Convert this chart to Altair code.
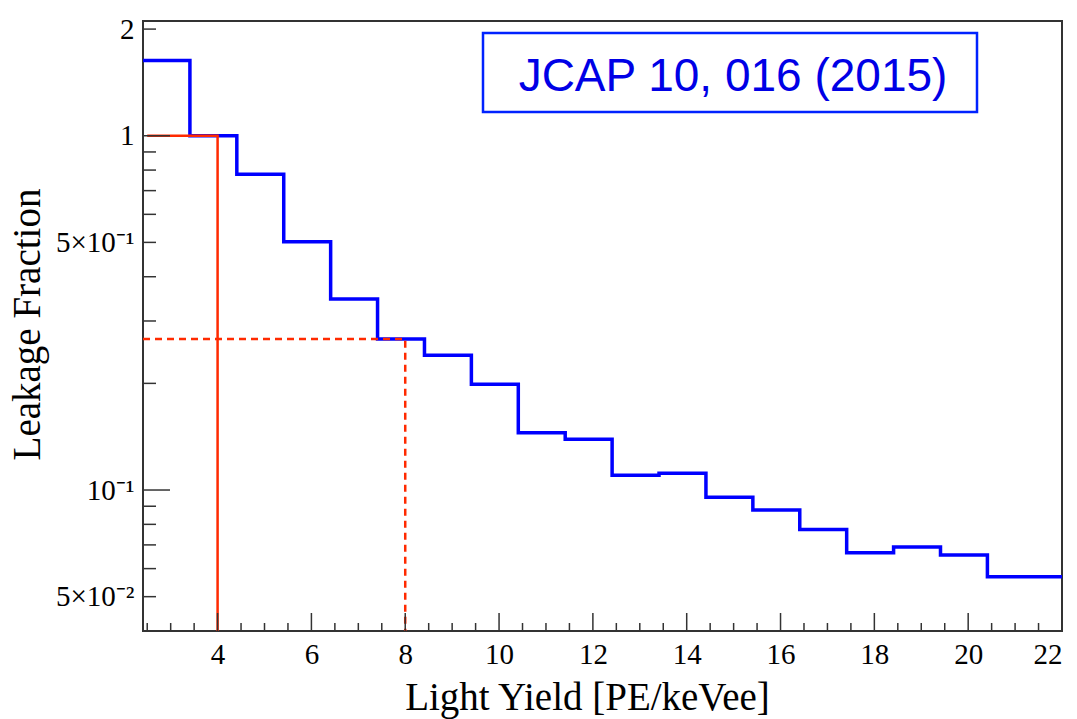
import altair as alt
import pandas as pd

# ---- data ----
bin_left_edges = [2.41, 3.41, 4.41, 5.41, 6.41, 7.41, 8.41, 9.41, 10.41, 11.41,
                  12.41, 13.41, 14.41, 15.41, 16.41, 17.41, 18.41, 19.41, 20.41]
leakage = [1.63, 1.0, 0.778, 0.502, 0.346, 0.267, 0.240, 0.199, 0.145, 0.139,
           0.110, 0.1115, 0.0954, 0.0878, 0.0774, 0.0665, 0.069, 0.0655, 0.0569]
x_end = 22.0

# red reference lines (solid: LY=4 -> 1, dashed: LY=8 -> 0.267)
solid_x = [2.5, 4.0, 4.0]
solid_y = [1.0, 1.0, 0.04]
dashed_x = [2.41, 8.0, 8.0]
dashed_y = [0.267, 0.267, 0.04]

x_domain = [2.41, 22.0]
y_domain = [0.04, 2.108]

x_major = [4, 6, 8, 10, 12, 14, 16, 18, 20, 22]
x_minor = [2.5, 3, 3.5, 4.5, 5, 5.5, 6.5, 7, 7.5, 8.5, 9, 9.5, 10.5, 11, 11.5,
           12.5, 13, 13.5, 14.5, 15, 15.5, 16.5, 17, 17.5, 18.5, 19, 19.5,
           20.5, 21, 21.5]
y_major = [1.0, 0.1]
y_minor = [2.0, 0.9, 0.8, 0.7, 0.6, 0.5, 0.4, 0.3, 0.2,
           0.09, 0.08, 0.07, 0.06, 0.05]
y_label_values = [2.0, 1.0, 0.5, 0.1, 0.05]
y_label_texts = ["2", "1", "5×10⁻¹", "10⁻¹", "5×10⁻²"]

annotation = "JCAP 10, 016 (2015)"

W, H = 919, 610
SERIF = "Liberation Serif"
BLUE = "#0000ff"
RED = "#ff2a00"

# ---- tables ----
hist = pd.DataFrame({"x": bin_left_edges + [x_end], "y": leakage + [leakage[-1]]})
solid = pd.DataFrame({"x": solid_x, "y": solid_y, "o": list(range(len(solid_x)))})
dashed = pd.DataFrame({"x": dashed_x, "y": dashed_y, "o": list(range(len(dashed_x)))})

label_expr = ""
for v, t in zip(y_label_values, y_label_texts):
    label_expr += f"abs(datum.value - {v}) < {v * 0.01} ? '{t}' : "
label_expr += "''"

xscale = alt.Scale(domain=x_domain, nice=False, zero=False)
yscale = alt.Scale(type="log", domain=y_domain, nice=False)

xaxis = alt.Axis(values=x_major, ticks=False, tickSize=0, domain=False, grid=False,
                 labelFont=SERIF, labelFontSize=29, labelColor="black", labelPadding=9,
                 title="Light Yield [PE/keVee]", titleFont=SERIF, titleFontSize=39,
                 titleFontWeight="normal", titleColor="black",
                 titleBaseline="alphabetic", titleY=78, titleX=444)
yaxis = alt.Axis(values=y_label_values, labelExpr=label_expr, ticks=False, tickSize=0,
                 domain=False, grid=False, labelFont=SERIF, labelFontSize=29,
                 labelColor="black", labelPadding=9,
                 title="Leakage Fraction", titleFont=SERIF, titleFontSize=39,
                 titleFontWeight="normal", titleColor="black",
                 titleBaseline="alphabetic", titleAngle=-90, titleX=-104, titleY=303,
                 titleAlign="center")

base_hist = alt.Chart(hist).mark_line(
    interpolate="step-after", color=BLUE, strokeWidth=3.5, clip=True
).encode(
    x=alt.X("x:Q", scale=xscale, axis=xaxis),
    y=alt.Y("y:Q", scale=yscale, axis=yaxis),
)

solid_line = alt.Chart(solid).mark_line(color=RED, strokeWidth=2.5, clip=True).encode(
    x=alt.X("x:Q", scale=xscale), y=alt.Y("y:Q", scale=yscale), order="o:Q")
dashed_line = alt.Chart(dashed).mark_line(
    color=RED, strokeWidth=2.5, strokeDash=[7, 5], clip=True
).encode(x=alt.X("x:Q", scale=xscale), y=alt.Y("y:Q", scale=yscale), order="o:Q")

tick_color = "#333333"
ymaj = alt.Chart(pd.DataFrame({"y": y_major})).mark_rule(color=tick_color, strokeWidth=1.5).encode(
    y=alt.Y("y:Q", scale=yscale), x=alt.value(0), x2=alt.value(27))
ymin = alt.Chart(pd.DataFrame({"y": y_minor})).mark_rule(color=tick_color, strokeWidth=1.5).encode(
    y=alt.Y("y:Q", scale=yscale), x=alt.value(0), x2=alt.value(13))
xmaj = alt.Chart(pd.DataFrame({"x": x_major[:-1]})).mark_rule(color=tick_color, strokeWidth=1.5).encode(
    x=alt.X("x:Q", scale=xscale), y=alt.value(H), y2=alt.value(H - 18))
xmin = alt.Chart(pd.DataFrame({"x": x_minor})).mark_rule(color=tick_color, strokeWidth=1.5).encode(
    x=alt.X("x:Q", scale=xscale), y=alt.value(H), y2=alt.value(H - 8))

ann = pd.DataFrame({"t": [annotation]})
box = alt.Chart(ann).mark_rect(fill="white", stroke="#0022ff", strokeWidth=2.5).encode(
    x=alt.value(340), x2=alt.value(834), y=alt.value(12), y2=alt.value(91))
box_text = alt.Chart(ann).mark_text(
    font="Liberation Sans", fontSize=46, color="#0000e6", align="center",
    baseline="alphabetic"
).encode(text="t:N", x=alt.value(590), y=alt.value(70))

chart = alt.layer(
    base_hist, solid_line, dashed_line, ymaj, ymin, xmaj, xmin, box, box_text
).properties(
    width=W, height=H,
    autosize=alt.AutoSizeParams(type="none"),
    padding={"left": 143, "top": 21, "right": 15, "bottom": 88},
    background="white",
).configure_view(stroke="#333333", strokeWidth=2)

chart.save("out.html", embed_options={"renderer": "svg", "actions": False})
